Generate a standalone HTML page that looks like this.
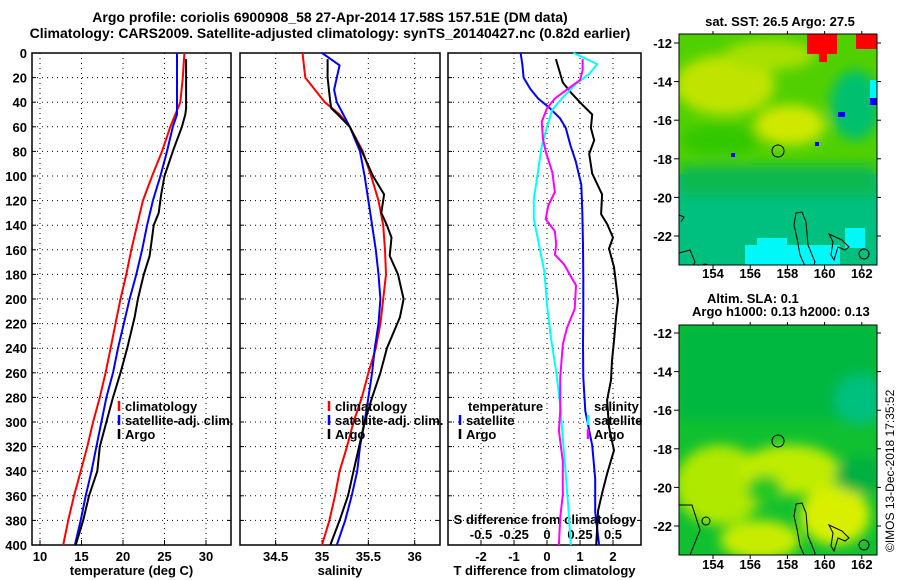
<!DOCTYPE html>
<html><head><meta charset="utf-8"><style>
body{margin:0;background:#fff;}
svg{display:block;font-family:"Liberation Sans",sans-serif;font-weight:bold;}
text{font-size:13px;fill:#000;}
</style></head><body>
<svg id="c" width="900" height="580" viewBox="0 0 900 580">
<defs><filter id="bl" x="-20%" y="-20%" width="140%" height="140%"><feGaussianBlur stdDeviation="6"/></filter>
<clipPath id="m1"><rect x="679" y="34" width="198" height="231"/></clipPath>
<clipPath id="m2"><rect x="679" y="325" width="198" height="230"/></clipPath></defs>
<text x="330" y="22" text-anchor="middle" style="font-size:14px">Argo profile: coriolis 6900908_58 27-Apr-2014 17.58S 157.51E (DM data)</text>
<text x="330" y="38" text-anchor="middle" style="font-size:14px">Climatology: CARS2009. Satellite-adjusted climatology: synTS_20140427.nc (0.82d earlier)</text>
<g id="panels"></g>
<!-- top map -->
<g clip-path="url(#m1)">
<rect x="679" y="34" width="198" height="231" fill="#00c080"/>
<rect x="679" y="34" width="198" height="140" fill="#50d000"/>
<g filter="url(#bl)">
<rect x="679" y="165" width="198" height="30" fill="#10b850"/>
<ellipse cx="725" cy="85" rx="50" ry="30" fill="#c0e400"/>
<ellipse cx="790" cy="125" rx="35" ry="20" fill="#d0e800"/>
<ellipse cx="770" cy="55" rx="45" ry="15" fill="#a8e000"/>
<ellipse cx="855" cy="105" rx="25" ry="35" fill="#00c070"/>
<ellipse cx="720" cy="140" rx="40" ry="15" fill="#30c800"/>
</g>
<rect x="807" y="34" width="30" height="20" fill="#f00"/><rect x="856" y="34" width="21" height="15" fill="#f00"/>
<rect x="819" y="54" width="8" height="8" fill="#f00"/>
<rect x="745" y="245" width="95" height="20" fill="#00f8f8"/><rect x="757" y="238" width="30" height="8" fill="#00f8f8"/>
<rect x="845" y="228" width="20" height="20" fill="#00f8f8"/><rect x="870" y="80" width="7" height="25" fill="#00f8f8"/>
<rect x="838" y="112" width="7" height="5" fill="#00f"/><rect x="870" y="98" width="7" height="7" fill="#00f"/><rect x="815" y="142" width="4" height="4" fill="#00f"/><rect x="731" y="153" width="4" height="4" fill="#00f"/>
<g fill="none" stroke="#000" stroke-width="1">
<path d="M796 213 L802 212 L806 222 L808 245 L815 262 L812 270 L806 268 L800 255 L797 238 L794 225 Z"/>
<path d="M829 234 L842 240 L849 247 L845 250 L838 247 L834 260 L831 255 L833 242 Z"/>
<path d="M679 253 L690 250 L695 262 L690 272 M679 215 L684 217 L681 222"/>
<circle cx="705" cy="268" r="4"/><circle cx="864" cy="254" r="5"/>
</g></g>
<circle cx="778" cy="151" r="6" fill="none" stroke="#000"/>
<rect x="679" y="34" width="198" height="231" fill="none" stroke="#000"/>
<text x="780" y="26" text-anchor="middle">sat. SST: 26.5 Argo: 27.5</text>
<!-- bottom map -->
<g clip-path="url(#m2)">
<rect x="679" y="325" width="198" height="230" fill="#10c030"/>
<g filter="url(#bl)">
<rect x="679" y="325" width="198" height="95" fill="#00b840"/>
<ellipse cx="860" cy="400" rx="25" ry="25" fill="#00c080"/>
<ellipse cx="720" cy="485" rx="45" ry="40" fill="#b0e800"/>
<ellipse cx="790" cy="470" rx="50" ry="25" fill="#c0ec00"/>
<ellipse cx="835" cy="515" rx="35" ry="30" fill="#d8f000"/>
<ellipse cx="760" cy="540" rx="40" ry="20" fill="#c8ec00"/>
<ellipse cx="765" cy="490" rx="18" ry="15" fill="#20c820"/>
<ellipse cx="860" cy="475" rx="25" ry="18" fill="#00b040"/>
</g>
<g fill="none" stroke="#000" stroke-width="1">
<path d="M796 504 L802 503 L806 513 L808 536 L815 553 L812 561 L806 559 L800 546 L797 529 L794 516 Z"/>
<path d="M829 525 L842 531 L849 538 L845 541 L838 538 L834 551 L831 546 L833 533 Z"/>
<path d="M679 505 L692 505 L700 530 L690 555"/>
<circle cx="864" cy="545" r="5"/><circle cx="706" cy="521" r="4"/>
</g></g>
<circle cx="778" cy="441" r="6" fill="none" stroke="#000"/>
<rect x="679" y="325" width="198" height="230" fill="none" stroke="#000"/>
<text x="707" y="303">Altim. SLA: 0.1</text>
<text x="692" y="316">Argo h1000: 0.13 h2000: 0.13</text>
<text transform="translate(894,552) rotate(-90)" style="font-weight:normal;font-size:12px">©IMOS 13-Dec-2018 17:35:52</text>
<g id="maps-axes"></g>
</svg>
<script>
// ---- data ----
const tempDepth=[0,20,40,50,60,80,100,120,140,160,180,200,220,240,260,280,300,320,340,360,380,400];
const tempClim=[27.4,27.2,26.9,26.3,25.7,24.7,23.5,22.4,21.7,21.0,20.4,19.7,19.1,18.5,17.9,17.2,16.4,15.7,14.9,14.1,13.4,12.8];
const tempSat=[26.5,26.5,26.5,26.5,26.0,25.3,24.5,23.6,22.9,22.3,21.6,20.8,20.1,19.4,18.8,18.0,17.4,16.8,16.2,15.5,14.9,14.2];
const argoDepth=[5,20,40,45,50,60,80,100,115,130,140,150,165,180,200,215,240,260,280,300,320,340,360,380,400];
const tempArgo=[27.6,27.6,27.6,27.6,27.5,27.1,26.0,25.0,24.6,24.3,23.7,23.5,23.2,22.5,21.8,21.4,20.5,19.7,18.8,18.0,17.2,16.9,15.9,15.2,14.3];
const salClim=[34.79,34.82,35.03,35.19,35.30,35.44,35.53,35.61,35.66,35.68,35.69,35.66,35.63,35.58,35.50,35.43,35.34,35.27,35.19,35.14,35.08,35.00];
const salDepthSat=[0,10,20,30,40,50,60,80,100,120,140,160,180,200,220,240,260,280,300,320,340,360,380,400];
const salSat=[35.0,35.19,35.16,35.13,35.16,35.23,35.30,35.41,35.46,35.50,35.54,35.58,35.61,35.63,35.61,35.57,35.54,35.50,35.46,35.41,35.38,35.32,35.25,35.16];
const salArgo=[35.06,35.06,35.09,35.10,35.17,35.30,35.43,35.55,35.67,35.64,35.70,35.75,35.73,35.82,35.88,35.84,35.70,35.63,35.54,35.46,35.40,35.34,35.28,35.19,35.09];
const tdDepthArgo=[5,24,33,42,50,61,71,82,98,115,131,139,150,159,174,201,215,234,250,266,282,304,323,342,358,372,400];
const tdArgo=[0.27,0.48,0.75,1.07,1.37,1.33,1.43,1.28,1.37,1.67,1.64,1.82,2.0,1.88,2.03,2.15,2.09,2.03,1.97,1.94,1.82,1.88,2.03,1.82,1.67,1.55,1.49];
const tdDepthSat=[0,9,20,29,37,45,53,61,75,88,107,129,156,183,210,237,264,291,319,346,373,400];
const tdSat=[-0.8,-0.75,-0.71,-0.51,-0.27,0.09,0.39,0.57,0.71,0.87,1.04,1.07,1.09,1.1,1.1,1.09,1.1,1.16,1.37,1.46,1.46,1.58];
const sdDepthArgo=[5,14,22,29,37,45,56,70,80,97,113,124,135,145,156,164,172,189,208,224,237,264,291,307,332,359,378,400];
const sdArgo=[0.27,0.27,0.25,0.16,0.06,0.0,-0.04,-0.03,-0.01,0.04,0.06,0.01,-0.01,0.06,0.07,0.06,0.13,0.22,0.21,0.15,0.12,0.1,0.1,0.09,0.12,0.12,0.1,0.09];
const sdDepthSat=[0,9,17,25,36,46,60,76,97,119,135,151,178,205,232,259,286,313,340,367,400];
const sdSat=[0.2,0.38,0.32,0.22,0.12,0.04,0.0,-0.04,-0.07,-0.1,-0.1,-0.07,-0.02,0.0,0.03,0.07,0.1,0.12,0.14,0.16,0.18];
const depthTicks=[0,20,40,60,80,100,120,140,160,180,200,220,240,260,280,300,320,340,360,380,400];
const tempTicks=[10,15,20,25,30];
const salTicks=[34.5,35,35.5,36];
const tdTicks=[-2,-1,0,1,2];
const sdTicks=[-0.5,-0.25,0,0.25,0.5];
const latTicks=[-12,-14,-16,-18,-20,-22];
const lonTicks=[154,156,158,160,162];
// ---- scales ----
const yD=d=>53+d*1.23;
const xT=v=>40+(v-10)*8.3;
const xS=v=>322+(v-35)*92.7;
const xTD=v=>547+v*33;
const xSD=v=>547+v*132;
const NS='http://www.w3.org/2000/svg';
const G=document.getElementById('panels');
function mk(tag,at,parent){const e=document.createElementNS(NS,tag);for(const k in at)e.setAttribute(k,at[k]);(parent||G).appendChild(e);return e;}
function txt(x,y,s,anchor){const t=mk('text',{x:x,y:y,'text-anchor':anchor||'start'});t.textContent=s;return t;}
const panels=[{x0:32,x1:231,ticks:tempTicks,f:xT,label:'temperature (deg C)',name:'temperature-panel'},
 {x0:240,x1:440,ticks:salTicks,f:xS,label:'salinity',name:'salinity-panel'},
 {x0:448,x1:641,ticks:tdTicks,f:xTD,label:'T difference from climatology',name:'difference-panel'}];
panels.forEach((p,i)=>{
  const g=mk('g',{});
  
  
  depthTicks.forEach(d=>{ if(d>0&&d<400){const l=mk('line',{x1:p.x0,x2:p.x1,y1:yD(d),y2:yD(d),stroke:'#000','stroke-dasharray':'1 4'},g);
    }
    mk('line',{x1:p.x0,x2:p.x0+4,y1:yD(d),y2:yD(d),stroke:'#000'},g);mk('line',{x1:p.x1-4,x2:p.x1,y1:yD(d),y2:yD(d),stroke:'#000'},g);
    if(i===0){const t=txt(27,yD(d)+5,String(d),'end');}});
  p.ticks.forEach(v=>{const x=p.f(v);const l=mk('line',{x1:x,x2:x,y1:53,y2:545,stroke:'#000','stroke-dasharray':'1 4'},g);
    
    mk('line',{x1:x,x2:x,y1:540,y2:545,stroke:'#000'},g);
    const t=txt(x,561,String(v),'middle');});
  const fr=mk('rect',{x:p.x0,y:53,width:p.x1-p.x0,height:492,fill:'none',stroke:'#000','stroke-width':1.5},g);
  
  const lt=txt((p.x0+p.x1)/2,575,p.label,'middle');
});
sdTicks.forEach(v=>{const t=txt(xSD(v),539,String(v),'middle');});
const st=txt(545,524,'S difference from climatology','middle');
function line(vals,deps,fx,color,name){const pts=vals.map((v,i)=>fx(v).toFixed(1)+','+yD(deps[i]).toFixed(1)).join(' ');
  const pl=mk('polyline',{points:pts,fill:'none',stroke:color,'stroke-width':2,'stroke-linejoin':'round'});
  }
line(tempClim,tempDepth,xT,'#f00','temp-climatology-line');
line(tempSat,tempDepth,xT,'#00f','temp-satellite-line');
line(tempArgo,argoDepth,xT,'#000','temp-argo-line');
line(salClim,tempDepth,xS,'#f00','sal-climatology-line');
line(salSat,salDepthSat,xS,'#00f','sal-satellite-line');
line(salArgo,argoDepth,xS,'#000','sal-argo-line');
line(tdSat,tdDepthSat,xTD,'#00f','tdiff-satellite-line');
line(tdArgo,tdDepthArgo,xTD,'#000','tdiff-argo-line');
line(sdSat,sdDepthSat,xSD,'#0ff','sdiff-satellite-line');
line(sdArgo,sdDepthArgo,xSD,'#f0f','sdiff-argo-line');
function leg(x,y,color,label,name){mk('line',{x1:x,x2:x,y1:y-10,y2:y,stroke:color,'stroke-width':2.5});
  const t=txt(x+6,y,label);}
leg(119,411,'#f00','climatology','legend-climatology');leg(119,425,'#00f','satellite-adj. clim.','legend-satellite-adj');leg(119,439,'#000','Argo','legend-argo');
leg(329,411,'#f00','climatology','legend-sal-climatology');leg(329,425,'#00f','satellite-adj. clim.','legend-sal-satellite-adj');leg(329,439,'#000','Argo','legend-sal-argo');
const tl=txt(468,411,'temperature');
leg(460,425,'#00f','satellite','legend-tdiff-satellite');leg(460,439,'#000','Argo','legend-tdiff-argo');
const sl=txt(594,411,'salinity');
leg(588,425,'#0ff','satellite','legend-sdiff-satellite');leg(588,439,'#f0f','Argo','legend-sdiff-argo');
// map axes
const MA=document.getElementById('maps-axes');
[[43,34,265,278],[333,325,555,569]].forEach(m=>{
  latTicks.forEach((v,i)=>{const y=m[0]+i*38.6;mk('line',{x1:679,x2:674,y1:y,y2:y,stroke:'#000'},MA);mk('line',{x1:877,x2:881,y1:y,y2:y,stroke:'#000'},MA);
    const t=mk('text',{x:672,y:y+5,'text-anchor':'end'},MA);t.textContent=String(v);
    });
  lonTicks.forEach((v,i)=>{const x=713+i*37.2;mk('line',{x1:x,x2:x,y1:m[2],y2:m[2]+4,stroke:'#000'},MA);mk('line',{x1:x,x2:x,y1:m[1],y2:m[1]-3,stroke:'#000'},MA);
    const t=mk('text',{x:x,y:m[3],'text-anchor':'middle'},MA);t.textContent=String(v);
    });
});
</script>
</body></html>
